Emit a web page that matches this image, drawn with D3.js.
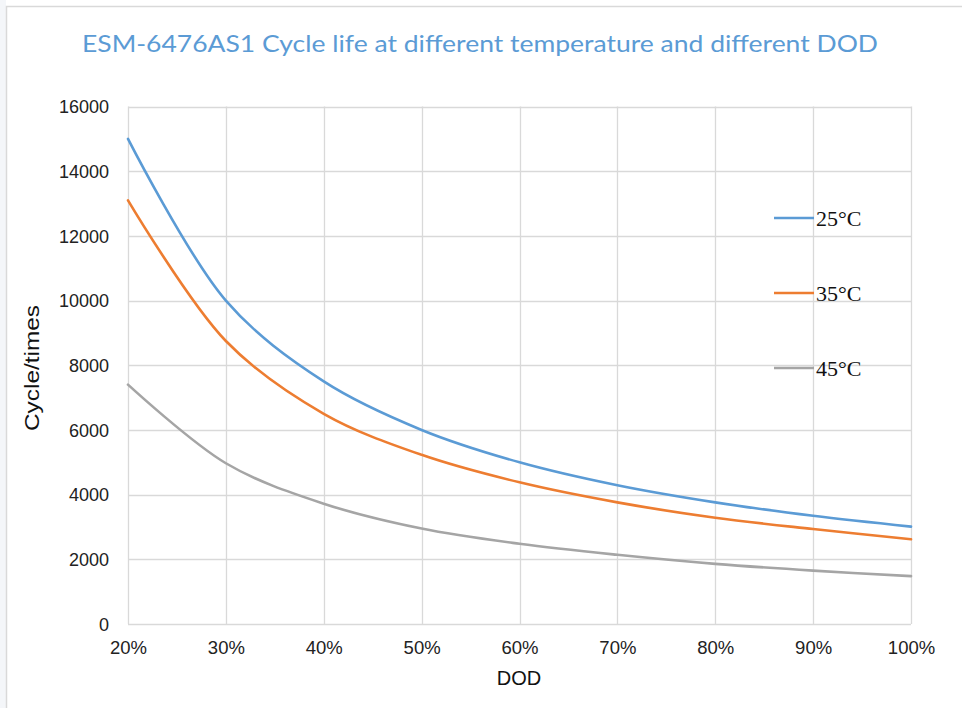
<!DOCTYPE html>
<html>
<head>
<meta charset="utf-8">
<script src="https://cdn.jsdelivr.net/npm/d3@7"></script>
<style>
  html, body { margin: 0; padding: 0; background: #ffffff; }
  svg { display: block; }
</style>
</head>
<body>
<script>
// ---- data ----
const dod = [20, 30, 40, 50, 60, 70, 80, 90, 100];
const t25 = [15000, 10000, 7500, 6000, 5000, 4290, 3760, 3345, 3010];
const t35 = [13100, 8750, 6500, 5230, 4380, 3760, 3285, 2935, 2620];
const t45 = [7400, 4970, 3720, 2950, 2480, 2140, 1860, 1650, 1480];
const seriesNames = ["25\u00B0C", "35\u00B0C", "45\u00B0C"];
const yTicks = [0, 2000, 4000, 6000, 8000, 10000, 12000, 14000, 16000];
const xTicks = [20, 30, 40, 50, 60, 70, 80, 90, 100];
const titleText = "ESM-6476AS1 Cycle life at different temperature and different DOD";
const xTitle = "DOD";
const yTitle = "Cycle/times";

const colors = ["#5B9BD5", "#ED7D31", "#A5A5A5"];
const allSeries = [t25, t35, t45];

const W = 962, H = 708;
const svg = d3.select("body").append("svg").attr("width", W).attr("height", H);

// page tint and chart frame
svg.append("rect").attr("x", 0).attr("y", 0).attr("width", 6).attr("height", H).attr("fill", "#f4f6f9");
svg.append("rect").attr("x", 6.5).attr("y", 6.5).attr("width", W + 10).attr("height", H + 10)
  .attr("fill", "#ffffff").attr("stroke", "#d9d9d9").attr("stroke-width", 1.5);

const x = d3.scaleLinear().domain([20, 100]).range([128, 911]);
const y = d3.scaleLinear().domain([0, 16000]).range([624, 106.5]);

// gridlines
const grid = svg.append("g");
grid.selectAll("line.h").data(yTicks).join("line")
  .attr("x1", x(20)).attr("x2", x(100))
  .attr("y1", d => Math.round(y(d)) + 0.5).attr("y2", d => Math.round(y(d)) + 0.5)
  .attr("stroke", "#d9d9d9").attr("stroke-width", 1.3);
grid.selectAll("line.v").data(xTicks).join("line")
  .attr("y1", y(0)).attr("y2", y(16000))
  .attr("x1", d => Math.round(x(d)) + 0.5).attr("x2", d => Math.round(x(d)) + 0.5)
  .attr("stroke", "#d9d9d9").attr("stroke-width", 1.3);

// axes (labels only, via d3 axis)
const yAxis = svg.append("g").attr("transform", `translate(${x(20)},0)`)
  .call(d3.axisLeft(y).tickValues(yTicks).tickSize(0).tickPadding(19).tickFormat(d3.format("d")));
yAxis.select(".domain").remove();
yAxis.selectAll("text").attr("font-family", "Liberation Sans, Arial, sans-serif")
  .attr("font-size", 18).attr("fill", "#222").attr("dy", "0.35em");

const xAxis = svg.append("g").attr("transform", `translate(0,${y(0)})`)
  .call(d3.axisBottom(x).tickValues(xTicks).tickSize(0).tickPadding(17).tickFormat(d => d + "%"));
xAxis.select(".domain").remove();
xAxis.selectAll("text").attr("font-family", "Liberation Sans, Arial, sans-serif")
  .attr("font-size", 18.5).attr("fill", "#222");

// axis titles
svg.append("text").attr("x", 519).attr("y", 685).attr("text-anchor", "middle")
  .attr("font-family", "Liberation Sans, Arial, sans-serif").attr("font-size", 20).attr("fill", "#111")
  .text(xTitle);
svg.append("text").attr("transform", "translate(39,368) rotate(-90)").attr("text-anchor", "middle")
  .attr("font-family", "Liberation Sans, Arial, sans-serif").attr("font-size", 20).attr("fill", "#111")
  .attr("textLength", 126).attr("lengthAdjust", "spacingAndGlyphs")
  .text(yTitle);

// title
svg.append("text").attr("x", 480).attr("y", 52).attr("text-anchor", "middle")
  .attr("font-family", "Lato, Open Sans, sans-serif").attr("font-size", 23).attr("fill", "#5B9BD5")
  .attr("textLength", 796).attr("lengthAdjust", "spacingAndGlyphs")
  .text(titleText);

// lines
const line = d3.line().x(d => x(d[0])).y(d => y(d[1])).curve(d3.curveCatmullRom.alpha(0.5));
allSeries.forEach((vals, i) => {
  svg.append("path").datum(dod.map((d, j) => [d, vals[j]]))
    .attr("d", line).attr("fill", "none").attr("stroke", colors[i])
    .attr("stroke-width", 2.6).attr("stroke-linecap", "round");
});

// legend
const legendY = [218, 293, 368];
const lg = svg.append("g");
seriesNames.forEach((name, i) => {
  lg.append("line").attr("x1", 774).attr("x2", 814).attr("y1", legendY[i]).attr("y2", legendY[i])
    .attr("stroke", colors[i]).attr("stroke-width", 2.6);
  lg.append("text").attr("x", 816).attr("y", legendY[i] + 8)
    .attr("font-family", "Liberation Serif, Times New Roman, serif").attr("font-size", 22).attr("fill", "#111")
    .text(name);
});
</script>
</body>
</html>
